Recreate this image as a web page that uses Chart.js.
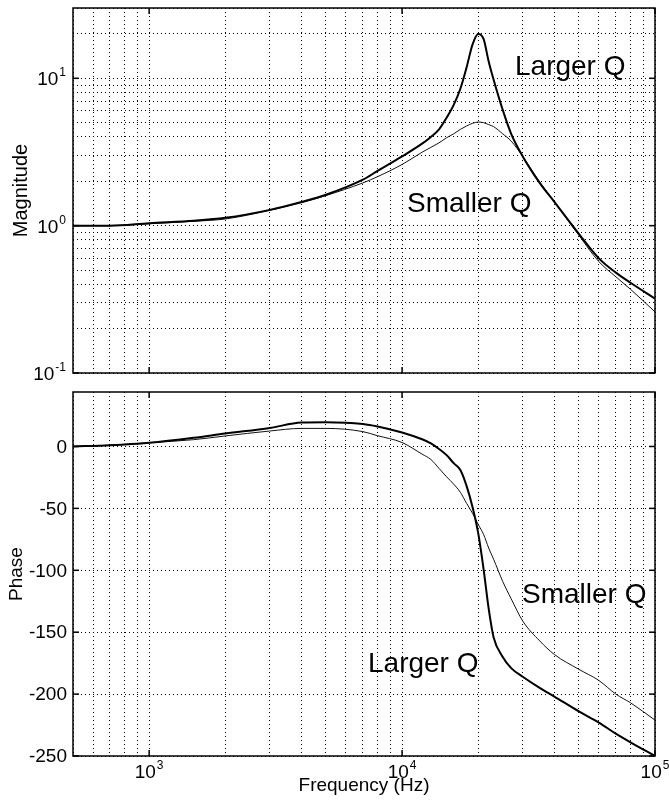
<!DOCTYPE html>
<html>
<head>
<meta charset="utf-8">
<script src="https://cdn.jsdelivr.net/npm/chart.js@4.4.0/dist/chart.umd.min.js"></script>
<style>
  body { margin: 0; background: #fff; }
  #wrap { position: relative; width: 669px; height: 800px; }
  canvas { position: absolute; left: 0; }
</style>
</head>
<body>
<div id="wrap">
  <canvas id="magChart" width="669" height="383" style="top:0"></canvas>
  <canvas id="phaseChart" width="669" height="417" style="top:383px"></canvas>
</div>
<script>
// frequencies (Hz)
var freq = [500, 700, 1000, 1500, 2000, 3000, 4000, 5000, 7000, 8000, 10000, 12000, 13000, 14000, 15000,
            16000, 17000, 18000, 19000, 20000, 21000, 22000, 23000, 25000, 27000, 30000, 35000,
            40000, 50000, 60000, 70000, 80000, 100000];

// magnitude
var magLarge = [1.0, 1.0, 1.04, 1.08, 1.13, 1.28, 1.45, 1.62, 2.05, 2.35, 2.95, 3.6, 4.0, 4.5, 5.4,
                6.6, 8.5, 11.9, 17, 20, 18.5, 13, 9.8, 6.1, 4.2, 2.95, 1.95,
                1.45, 0.88, 0.6, 0.48, 0.41, 0.32];
var magSmall = [1.0, 1.0, 1.03, 1.07, 1.11, 1.27, 1.43, 1.6, 1.95, 2.15, 2.6, 3.15, 3.4, 3.65, 3.95,
                4.2, 4.5, 4.75, 4.95, 5.05, 5.0, 4.85, 4.7, 4.2, 3.75, 2.95, 1.98,
                1.45, 0.86, 0.57, 0.45, 0.37, 0.26];

// phase (deg)
var phaseLarge = [0, 1, 3, 7, 10.5, 15, 19.3, 19.6, 18.2, 16.2, 11.3, 5.8, 2.5, -2, -7,
                  -13.5, -19, -32, -49, -70, -99, -131, -154, -170, -179, -186, -195,
                  -202, -214, -223, -232, -239, -250];
var phaseSmall = [0, 1, 3, 5.5, 8.5, 12.5, 14.6, 14.6, 12, 8.7, 3.2, -6.2, -10.5, -17.7, -24.5,
                  -30.4, -37, -46, -54, -63, -71, -82, -91, -109, -123, -141, -157,
                  -168, -180, -189, -200, -207, -221];

// ticks
var xMajor = [1000, 10000, 100000];
var xMajorLabels = ['3', '4', '5'];
var magMajor = [0.1, 1, 10];
var magMajorLabels = ['-1', '0', '1'];
var phaseTicks = [-250, -200, -150, -100, -50, 0];

var FONT = '"Liberation Sans", Arial, sans-serif';

function toPoints(xs, ys) {
  return xs.map(function (x, i) { return { x: x, y: ys[i] }; });
}

// grid positions 1..9 x 10^n inside [lo, hi]
function logGrid(lo, hi) {
  var out = [];
  for (var d = 0.01; d <= hi; d *= 10) {
    for (var m = 1; m < 10; m++) {
      var v = Math.round(m * d * 1000) / 1000;
      if (v >= lo && v <= hi) out.push(v);
    }
  }
  if (out[out.length - 1] !== hi) out.push(hi);
  return out;
}

function setTicks(vals) {
  return function (scale) {
    scale.ticks = vals.map(function (v) { return { value: v }; });
  };
}

function drawPower(ctx, exp, x, y, align) {
  ctx.font = '19px ' + FONT;
  var w1 = ctx.measureText('10').width;
  ctx.font = '12px ' + FONT;
  var w2 = ctx.measureText(exp).width;
  var total = w1 + 1 + w2;
  var x0 = align === 'center' ? x - total / 2 : x - total;
  ctx.textAlign = 'left';
  ctx.textBaseline = 'alphabetic';
  ctx.font = '19px ' + FONT;
  ctx.fillText('10', x0, y);
  ctx.font = '12px ' + FONT;
  ctx.fillText(exp, x0 + w1 + 1, y - 9);
}

function line(ctx, x1, y1, x2, y2) {
  ctx.beginPath();
  ctx.moveTo(x1, y1);
  ctx.lineTo(x2, y2);
  ctx.stroke();
}

// frame, inward ticks, tick labels, notes
function makeFrame(cfg) {
  return {
    id: 'frame',
    afterDraw: function (chart) {
      var ctx = chart.ctx, a = chart.chartArea;
      var xs = chart.scales.x, ys = chart.scales.y;
      ctx.save();
      ctx.strokeStyle = '#000';
      ctx.fillStyle = '#000';
      ctx.lineWidth = 1.5;
      ctx.strokeRect(a.left, a.top, a.right - a.left, a.bottom - a.top);

      xMajor.forEach(function (v) {
        var px = xs.getPixelForValue(v);
        line(ctx, px, a.bottom, px, a.bottom - 6);
        line(ctx, px, a.top, px, a.top + 6);
      });
      cfg.yMajor.forEach(function (v) {
        var py = ys.getPixelForValue(v);
        line(ctx, a.left, py, a.left + 6, py);
        line(ctx, a.right, py, a.right - 6, py);
      });

      if (cfg.yLog) {
        cfg.yMajor.forEach(function (v, i) {
          drawPower(ctx, magMajorLabels[i], 66, ys.getPixelForValue(v) + 7, 'right');
        });
      } else {
        ctx.font = '19px ' + FONT;
        ctx.textAlign = 'right';
        ctx.textBaseline = 'middle';
        cfg.yMajor.forEach(function (v) {
          ctx.fillText(String(v), 67, ys.getPixelForValue(v) + 1);
        });
      }

      if (cfg.xLabels) {
        xMajor.forEach(function (v, i) {
          drawPower(ctx, xMajorLabels[i], xs.getPixelForValue(v), a.bottom + 22, 'center');
        });
      }

      ctx.font = '28px ' + FONT;
      ctx.textAlign = 'left';
      ctx.textBaseline = 'alphabetic';
      cfg.notes.forEach(function (n) { ctx.fillText(n.text, n.x, n.y); });
      ctx.restore();
    }
  };
}

function gridOpts() {
  return { color: '#000', lineWidth: 1, drawTicks: false };
}

function lineSet(label, pts, width, color) {
  return {
    label: label, data: pts, borderColor: color, borderWidth: width,
    pointRadius: 0, fill: false, cubicInterpolationMode: 'monotone'
  };
}

Chart.defaults.font.family = FONT;
Chart.defaults.color = '#000';

var xGrid = logGrid(500, 100000);
var magGrid = logGrid(0.1, 30);

new Chart(document.getElementById('magChart').getContext('2d'), {
  type: 'line',
  data: {
    datasets: [
      lineSet('Larger Q', toPoints(freq, magLarge), 2, '#000'),
      lineSet('Smaller Q', toPoints(freq, magSmall), 1, '#111')
    ]
  },
  options: {
    responsive: false,
    animation: false,
    devicePixelRatio: 1,
    layout: { padding: { left: 0, right: 14, top: 8, bottom: 0 } },
    plugins: { legend: { display: false }, tooltip: { enabled: false } },
    scales: {
      x: {
        type: 'logarithmic', min: 500, max: 100000,
        ticks: { display: false },
        grid: gridOpts(),
        border: { display: false, dash: [1, 3] },
        afterBuildTicks: setTicks(xGrid),
        afterFit: function (s) { s.height = 10; }
      },
      y: {
        type: 'logarithmic', min: 0.1, max: 30,
        ticks: { display: false },
        grid: gridOpts(),
        border: { display: false, dash: [1, 3] },
        title: { display: true, text: 'Magnitude', font: { size: 20 }, color: '#000', padding: { top: 9 } },
        afterBuildTicks: setTicks(magGrid),
        afterFit: function (s) { s.width = 73; }
      }
    }
  },
  plugins: [makeFrame({
    yLog: true, yMajor: magMajor, xLabels: false,
    notes: [{ text: 'Larger Q', x: 515, y: 75 }, { text: 'Smaller Q', x: 407, y: 212 }]
  })]
});

new Chart(document.getElementById('phaseChart').getContext('2d'), {
  type: 'line',
  data: {
    datasets: [
      lineSet('Larger Q', toPoints(freq, phaseLarge), 2, '#000'),
      lineSet('Smaller Q', toPoints(freq, phaseSmall), 1, '#111')
    ]
  },
  options: {
    responsive: false,
    animation: false,
    devicePixelRatio: 1,
    layout: { padding: { left: 0, right: 14, top: 9, bottom: 0 } },
    plugins: { legend: { display: false }, tooltip: { enabled: false } },
    scales: {
      x: {
        type: 'logarithmic', min: 500, max: 100000,
        ticks: { display: false },
        grid: gridOpts(),
        border: { display: false, dash: [1, 3] },
        title: { display: true, text: 'Frequency (Hz)', font: { size: 19 }, color: '#000', padding: { bottom: 3 } },
        afterBuildTicks: setTicks(xGrid),
        afterFit: function (s) { s.height = 44; }
      },
      y: {
        type: 'linear', min: -250, max: 44,
        ticks: { display: false },
        grid: gridOpts(),
        border: { display: false, dash: [1, 3] },
        title: { display: true, text: 'Phase', font: { size: 19 }, color: '#000', padding: { top: 5 } },
        afterBuildTicks: setTicks(phaseTicks),
        afterFit: function (s) { s.width = 73; }
      }
    }
  },
  plugins: [makeFrame({
    yLog: false, yMajor: phaseTicks, xLabels: true,
    notes: [{ text: 'Smaller Q', x: 522, y: 220 }, { text: 'Larger Q', x: 368, y: 289 }]
  })]
});
</script>
</body>
</html>
